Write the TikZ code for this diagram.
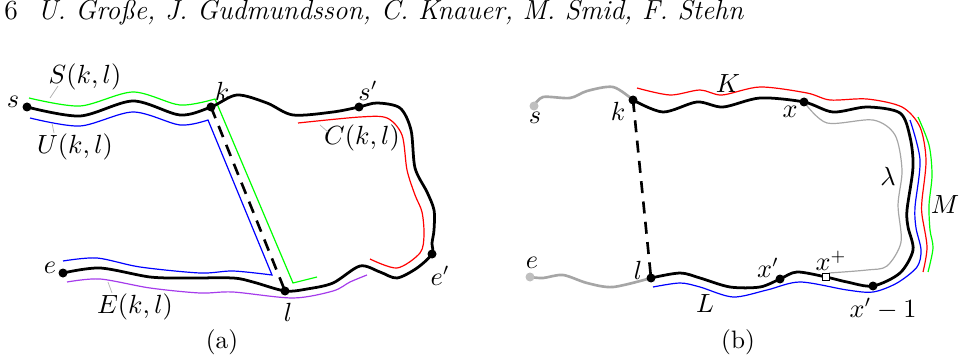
\documentclass[tikz,border=0pt]{standalone}
\definecolor{purp}{RGB}{165,60,235}
\begin{document}
\begin{tikzpicture}[x=0.4167pt,y=-0.4167pt,
  mainline/.style={line width=1.15pt,black},
  thin/.style={line width=0.5pt},
  greyline/.style={line width=1.1pt,black!35},
  leader/.style={line width=0.3pt,black!30},
  dashline/.style={line width=1.1pt,dash pattern=on 5pt off 3.5pt},
  dot/.style={circle,fill=black,inner sep=0pt,minimum size=9*0.4167pt},
  gdot/.style={circle,fill=black!25,inner sep=0pt,minimum size=9*0.4167pt},
  sq/.style={rectangle,draw=black,fill=white,line width=0.5pt,inner sep=0pt,minimum size=7*0.4167pt},
  lab/.style={inner sep=0pt,font=\fontsize{10.5}{12}\selectfont},
  hdr/.style={inner sep=0pt,anchor=base west,font=\fontsize{11.5}{14}\selectfont}]
\useasboundingbox (0,0) rectangle (959,358);
% header
\node[hdr] (pg) at (4,20) {6};
\node[hdr] (hd) at (37,20) {\textit{U. Gro\ss e, J. Gudmundsson, C. Knauer, M. Smid, F. Stehn}};

%%%%%%%%%%%% (a)
\coordinate (s) at (27,107);
\coordinate (k) at (211,107);
\coordinate (sp) at (359,107);
\coordinate (ep) at (432,254);
\coordinate (l) at (285,291);
\coordinate (e) at (63,273);
% green S
\draw[thin,green] plot[smooth] coordinates {(29,98) (80,106) (133,92) (180,105) (215,99)} -- (293,283) -- (317,277);
% blue U
\draw[thin,blue] plot[smooth] coordinates {(30,118) (80,126) (133,112) (180,125) (208,120)} -- (272,275) -- plot[smooth] coordinates {(272,275) (233,271) (200,273) (140,267) (97,258) (63,261)};
% purple E
\draw[thin,purp] plot[smooth] coordinates {(67,282) (100,279) (150,288) (200,293) (233,292) (293,298) (333,291) (350,282) (367,275)};
% red C
\draw[thin,red] plot[smooth] coordinates {(298,123) (360,117) (387,118) (402,135) (407,170) (415,195) (422,212) (424,235) (420,253) (397,268) (370,259)};
% main path
\draw[mainline] plot[smooth] coordinates {(s) (80,116) (133,101) (180,115) (k) (237,95) (267,103) (293,115) (333,112) (sp) (377,103) (400,108) (411,130) (415,168) (427,192) (434,210) (434,230) (432,243) (ep) (417,268) (397,278) (380,272) (360,266) (333,283) (307,289) (l) (253,282) (233,278) (187,278) (150,277) (100,268) (e)};
\draw[dashline] (k) -- (l);
\foreach \p in {s,k,sp,ep,l,e} \node[dot] at (\p) {};
% labels
\node[lab] (ls) at (13,102) {$s$};
\node[lab] (lS) at (85,77) {$S(k,l)$};
\node[lab] (lU) at (75,147) {$U(k,l)$};
\node[lab] (lk) at (222,91) {$k$};
\node[lab] (lsp) at (368,91) {$s'$};
\node[lab] (lC) at (362,138) {$C(k,l)$};
\node[lab] (le) at (50,268) {$e$};
\node[lab] (lE) at (135,307) {$E(k,l)$};
\node[lab] (ll) at (288,312) {$l$};
\node[lab] (lep) at (440,276) {$e'$};
\node[lab] (la) at (222,342) {(a)};
\draw[leader] (58,86) -- (50,98);
\draw[leader] (52,123) -- (54,133);
\draw[leader] (320,125) -- (328,132);
\draw[leader] (108,282) -- (112,293);

%%%%%%%%%%%% (b)
\coordinate (s2) at (534,106);
\coordinate (k2) at (633,100);
\coordinate (x) at (804,102);
\coordinate (xm) at (873,286);
\coordinate (xpl) at (826,277);
\coordinate (xp) at (780,279);
\coordinate (l2) at (651,278);
\coordinate (e2) at (530,277);
% grey approaches
\draw[greyline] plot[smooth] coordinates {(s2) (543,97) (570,98) (587,91) (613,87) (k2)};
\draw[greyline] plot[smooth] coordinates {(e2) (543,278) (563,275) (587,283) (613,287) (l2)};
% lambda
\draw[line width=0.5pt,black!35] plot[smooth] coordinates {(x) (827,123) (873,120) (895,135) (902,170) (898,205) (901,242) (887,266) (867,270) (829,273)};
% red K
\draw[thin,red] plot[smooth] coordinates {(637,88) (670,95) (700,90) (722,95) (760,87) (807,93) (830,100) (867,99) (902,107) (920,127) (926,160) (922,200) (922,215) (927,247) (923,272)};
% blue L
\draw[thin,blue] plot[smooth] coordinates {(910,120) (920,160) (915,207) (916,228) (921,250) (917,267) (897,283) (873,292) (847,290) (800,282) (767,290) (733,297) (700,287) (680,283) (653,287)};
% green M
\draw[thin,green] plot[smooth] coordinates {(918,117) (929,145) (932,175) (929,205) (930,230) (933,248) (928,272)};
% main
\draw[mainline] plot[smooth] coordinates {(k2) (663,112) (697,102) (723,107) (760,98) (x) (833,112) (867,107) (900,113) (910,137) (913,167) (907,210) (908,227) (913,250) (900,273) (xm) (847,282) (xpl) (797,272) (xp) (760,287) (730,287) (700,278) (680,273) (l2)};
\draw[dashline] (k2) -- (l2);
\foreach \p in {k2,x,xm,xp,l2} \node[dot] at (\p) {};
\node[gdot] at (s2) {};
\node[gdot] at (e2) {};
\node[sq] (xsq) at (xpl) {};
% labels
\node[lab] (ls2) at (535,118) {$s$};
\node[lab] (lk2) at (618,111) {$k$};
\node[lab] (lK) at (728,84) {$K$};
\node[lab] (lx) at (790,112) {$x$};
\node[lab] (llam) at (888,176) {$\lambda$};
\node[lab] (lM) at (945,205) {$M$};
\node[lab] (le2) at (532,263) {$e$};
\node[lab] (ll2) at (638,270) {$l$};
\node[lab] (lL) at (705,304) {$L$};
\node[lab] (lxp) at (768,268) {$x'$};
\node[lab] (lxpl) at (831,261) {$x^+$};
\node[lab] (lxm) at (883,309) {$x'-1$};
\node[lab] (lb) at (738,342) {(b)};
\end{tikzpicture}
\end{document}
